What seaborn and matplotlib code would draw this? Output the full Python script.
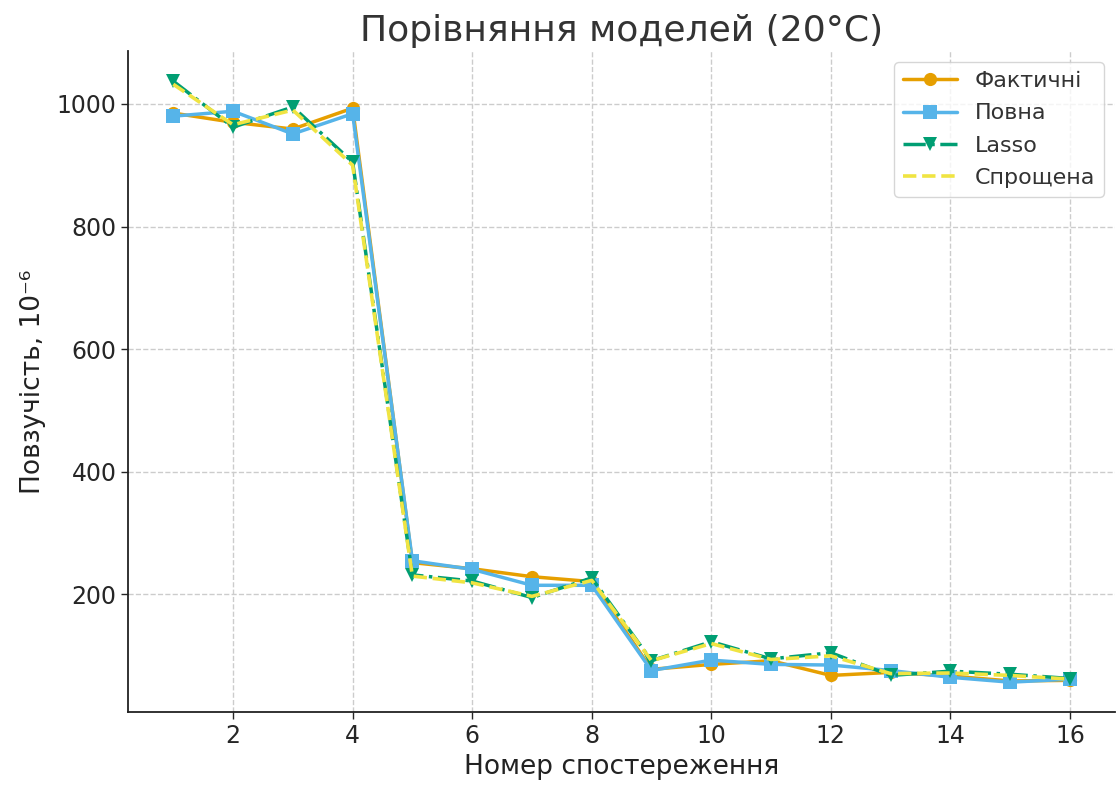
import matplotlib
matplotlib.use("Agg")
import matplotlib.pyplot as plt
import seaborn as sns
import pandas as pd

obs = list(range(1, 17))
actual = [985, 970, 959, 993, 252, 242, 229, 221, 78, 86, 92, 68, 73, 67, 59, 60]
full = [980, 988, 951, 984, 255, 241, 215, 215, 76, 93, 86, 85, 76, 65, 57, 62]
lasso = [1037, 962, 995, 905, 232, 222, 195, 227, 92, 123, 95, 105, 68, 75, 70, 63]
simple = [1032, 966, 990, 900, 230, 219, 197, 223, 92, 120, 94, 100, 71, 72, 68, 62]

labels = ["Фактичні", "Повна", "Lasso", "Спрощена"]
colors = ["#E69F00", "#56B4E9", "#009E73", "#F0E442"]

sns.set_theme(style="ticks")
plt.rcParams['font.family'] = ['DejaVu Sans']

fig, ax = plt.subplots(figsize=(11.17, 7.87), dpi=100)

df = pd.DataFrame({"obs": obs, "a": actual, "f": full, "l": lasso, "s": simple})

sns.lineplot(data=df, x="obs", y="a", ax=ax, color=colors[0], marker="o", markersize=9.5,
             linewidth=2.5, label=labels[0], markeredgewidth=0)
sns.lineplot(data=df, x="obs", y="f", ax=ax, color=colors[1], marker="s", markersize=9.5,
             linewidth=2.5, label=labels[1], markeredgewidth=0)
sns.lineplot(data=df, x="obs", y="l", ax=ax, color=colors[2], marker="v", markersize=9.5,
             linewidth=2.5, linestyle="-.", label=labels[2], markeredgewidth=0)
sns.lineplot(data=df, x="obs", y="s", ax=ax, color=colors[3], linewidth=2.6,
             linestyle="--", label=labels[3])

ax.set_title("Порівняння моделей (20°C)", fontsize=26, color="#333333", pad=7)
ax.set_xlabel("Номер спостереження", fontsize=19, color="#222222")
ax.set_ylabel("Повзучість, 10⁻⁶", fontsize=19, color="#222222", labelpad=8)
ax.tick_params(axis="both", labelsize=17, length=5, width=1)
ax.set_xticks([2, 4, 6, 8, 10, 12, 14, 16])
ax.set_yticks([200, 400, 600, 800, 1000])
ax.grid(True, linestyle="--", color="#cccccc", linewidth=1)
sns.despine(ax=ax)
for s in ["left", "bottom"]:
    ax.spines[s].set_color("#222222")
    ax.spines[s].set_linewidth(1.3)

leg = ax.legend(loc="upper right", fontsize=16, frameon=True, handlelength=2.4,
                labelspacing=0.55)
leg.get_frame().set_edgecolor("#cccccc")
for t in leg.get_texts():
    t.set_color("#333333")

fig.subplots_adjust(left=0.115, right=0.998, top=0.935, bottom=0.095)
fig.savefig("out.png", dpi=100)
